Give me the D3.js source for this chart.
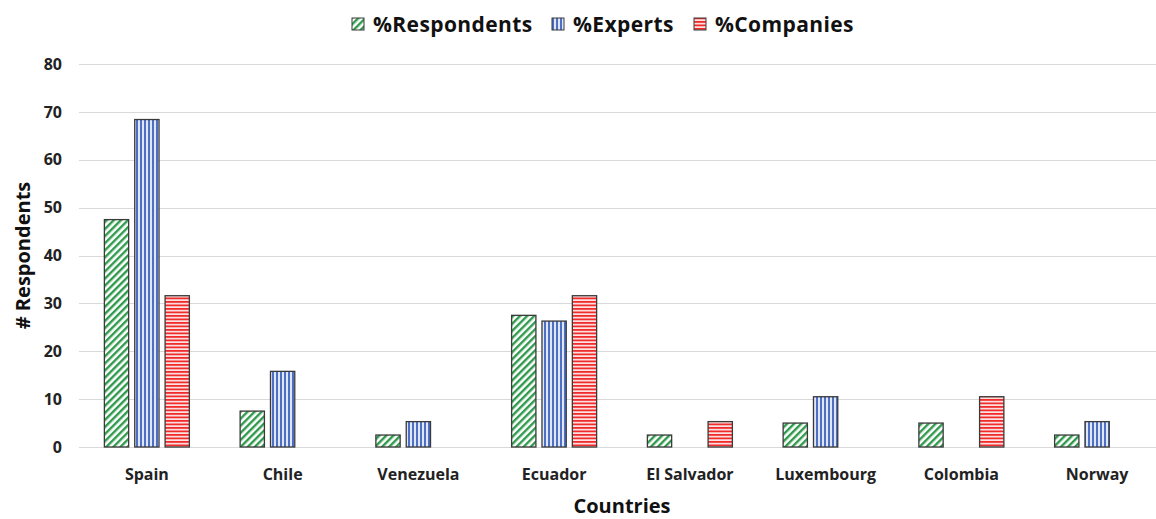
<!DOCTYPE html>
<html><head><meta charset="utf-8">
<script src="https://cdn.jsdelivr.net/npm/d3@7"></script>
<style>body{margin:0;background:#fff;} svg{display:block;}</style>
</head><body>
<svg id="chart" width="1156" height="519"></svg>
<script>
const countries = ["Spain","Chile","Venezuela","Ecuador","El Salvador","Luxembourg","Colombia","Norway"];
const seriesNames = ["%Respondents","%Experts","%Companies"];
const respondents = [47.5, 7.5, 2.5, 27.5, 2.5, 5, 5, 2.5];
const experts = [68.4, 15.8, 5.3, 26.3, 0, 10.5, 0, 5.3];
const companies = [31.6, 0, 0, 31.6, 5.3, 0, 10.5, 0];
const yTicks = [0,10,20,30,40,50,60,70,80];

const seriesValues = [respondents, experts, companies];
const patIds = ["patGreen","patBlue","patRed"];
const font = "'Open Sans', sans-serif";

const svg = d3.select("#chart");
const m = {left:79, right:1165, gridRight:1156, top:64, bottom:447};

// patterns
const defs = svg.append("defs");
const pg = defs.append("pattern").attr("id","patGreen").attr("patternUnits","userSpaceOnUse")
  .attr("width",5).attr("height",5).attr("patternTransform","rotate(45)");
pg.append("rect").attr("width",5).attr("height",5).attr("fill","#fff");
pg.append("rect").attr("x",0).attr("width",2.4).attr("height",5).attr("fill","#2f9a4c");

const pb = defs.append("pattern").attr("id","patBlue").attr("patternUnits","userSpaceOnUse")
  .attr("width",4).attr("height",4);
pb.append("rect").attr("width",4).attr("height",4).attr("fill","#dfe6f7");
pb.append("rect").attr("x",0).attr("width",2).attr("height",4).attr("fill","#4d6fc4");

const pr = defs.append("pattern").attr("id","patRed").attr("patternUnits","userSpaceOnUse")
  .attr("width",4).attr("height",3.5);
pr.append("rect").attr("width",4).attr("height",3.5).attr("fill","#fde3e3");
pr.append("rect").attr("y",0).attr("width",4).attr("height",1.8).attr("fill","#ef2b2b");

const y = d3.scaleLinear().domain([0,80]).range([m.bottom, m.top]);
const x0 = d3.scaleBand().domain(countries).range([m.left, m.right]).padding(0);
const x1 = d3.scaleBand().domain(seriesNames).range([0,85]).paddingInner(0.2);
const groupOffset = (x0.bandwidth() - 85)/2;

// grid
svg.append("g").selectAll("line").data(yTicks).join("line")
  .attr("x1",m.left).attr("x2",m.gridRight)
  .attr("y1",d=>Math.round(y(d))+0.5).attr("y2",d=>Math.round(y(d))+0.5)
  .attr("stroke","#d9d9d9").attr("stroke-width",1);

// y axis labels
const yAxis = d3.axisLeft(y).tickValues(yTicks).tickSize(0).tickPadding(0);
const yg = svg.append("g").attr("transform",`translate(62,0)`).call(yAxis);
yg.select(".domain").remove();
yg.selectAll("text").attr("font-family",font).attr("font-weight","bold").attr("font-size",16).attr("fill","#222");

// x axis labels
const xAxis = d3.axisBottom(x0).tickSize(0).tickPadding(0);
const xg = svg.append("g").attr("transform",`translate(0,${m.bottom+22})`).call(xAxis);
xg.select(".domain").remove();
xg.selectAll("text").attr("font-family",font).attr("font-weight","bold").attr("font-size",16).attr("fill","#222");

// bars
seriesNames.forEach((s,si)=>{
  const data = countries.map((c,i)=>({c, v: seriesValues[si][i]})).filter(d=>d.v>0);
  svg.append("g").selectAll("rect").data(data).join("rect")
    .attr("x",d=>x0(d.c)+groupOffset+x1(s))
    .attr("y",d=>y(d.v))
    .attr("width",x1.bandwidth())
    .attr("height",d=>y(0)-y(d.v))
    .attr("fill",`url(#${patIds[si]})`)
    .attr("stroke","#3a3a3a").attr("stroke-width",1.3);
});

// axis titles
svg.append("text").attr("transform",`translate(30,${(m.top+m.bottom)/2}) rotate(-90)`)
  .attr("text-anchor","middle").attr("font-family",font).attr("font-weight","bold")
  .attr("font-size",20).attr("fill","#111").text("# Respondents");
svg.append("text").attr("x",622).attr("y",513)
  .attr("text-anchor","middle").attr("font-family",font).attr("font-weight","bold")
  .attr("font-size",20).attr("fill","#111").text("Countries");

// legend
const legX = [352, 552, 694];
const lg = svg.append("g");
seriesNames.forEach((s,i)=>{
  lg.append("rect").attr("x",legX[i]).attr("y",18).attr("width",12).attr("height",12)
    .attr("fill",`url(#${patIds[i]})`).attr("stroke","#3a3a3a").attr("stroke-width",1);
  lg.append("text").attr("x",legX[i]+21).attr("y",32).attr("font-family",font)
    .attr("font-weight","bold").attr("font-size",21).attr("letter-spacing",0.4)
    .attr("fill","#111").text(s);
});
</script>
</body></html>
